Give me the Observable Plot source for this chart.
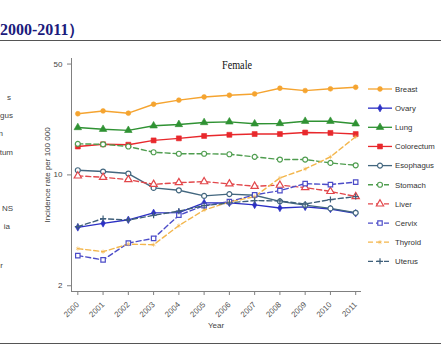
<!DOCTYPE html>
<html><head><meta charset="utf-8">
<script src="https://cdn.jsdelivr.net/npm/d3@7"></script>
<script src="https://cdn.jsdelivr.net/npm/@observablehq/plot@0.6"></script>
<style>
html,body{margin:0;padding:0;background:#fff;}
#wrap{position:relative;width:441px;height:358px;overflow:hidden;background:#fff;}
#wrap svg{position:absolute;left:0;top:0;}
</style></head><body><div id="wrap"></div>
<script>
// ---- data ----
const years = [2000,2001,2002,2003,2004,2005,2006,2007,2008,2009,2010,2011];
const breast     = [24.3,25.3,24.5,27.9,29.6,31.0,31.8,32.4,35.2,34.0,34.9,35.7];
const ovary      = [4.67,4.95,5.21,5.76,5.78,6.66,6.66,6.47,6.19,6.29,6.10,5.73];
const lung       = [19.9,19.4,19.1,20.4,20.8,21.4,21.6,21.0,21.1,21.8,21.8,21.0];
const colorectum = [15.1,15.6,15.5,16.5,17.0,17.6,17.9,18.1,18.1,18.5,18.4,18.1];
const esophagus  = [10.7,10.5,10.2,8.28,8.0,7.37,7.57,7.44,6.81,6.45,6.15,5.77];
const stomach    = [15.7,15.6,15.1,13.9,13.6,13.6,13.5,13.0,12.5,12.5,11.9,11.5];
const liver      = [9.86,9.66,9.34,8.72,8.94,9.07,8.78,8.48,8.62,8.32,7.87,7.30];
const cervix     = [3.10,2.91,3.72,3.98,5.57,6.40,6.79,7.48,7.96,8.81,8.69,9.01];
const thyroid    = [3.43,3.28,3.66,3.63,4.79,6.01,6.74,7.30,9.57,10.9,13.0,17.4];
const uterus     = [4.72,5.30,5.19,5.56,5.91,6.40,6.66,6.89,6.85,6.55,6.99,7.30];

const seriesNames = ["Breast","Ovary","Lung","Colorectum","Esophagus","Stomach","Liver","Cervix","Thyroid","Uterus"];
const seriesValues = [breast,ovary,lung,colorectum,esophagus,stomach,liver,cervix,thyroid,uterus];
const yTicks = [2,10,50];
const leftFragments = ["s","gus","n","tum","NS","ia","r"];
const titleText = "2000-2011）";
const panelTitle = "Female";
const yLabel = "Incidence rate per 100 000";
const xLabel = "Year";

// ---- styles ----
const colors  = ["#f5a430","#2b2fc4","#2f9233","#e8282c","#43677f","#4f9d4f","#e2474b","#4c4cc8","#f3b64c","#3f5f7a"];
const dashes  = [null,null,null,null,null,"5,3","5,3","5,3","5,3","5,3"];
const symbols = ["circle","diamond","triangle","square","circle","circle","triangle","square","asterisk","plus"];
const filled  = [true,true,true,true,false,false,false,false,true,false];
const sizes   = [2.4,2.3,2.8,2.8,2.5,2.5,2.7,2.5,2.0,2.1];

const rows = [];
seriesNames.forEach((name,i)=>{
  years.forEach((yr,j)=>rows.push({series:name, idx:i, year:yr, value:seriesValues[i][j]}));
});

const marks = [];
seriesNames.forEach((name,i)=>{
  const data = rows.filter(r=>r.idx===i);
  marks.push(Plot.line(data,{x:"year",y:"value",stroke:colors[i],strokeWidth:1.4,strokeDasharray:dashes[i]||undefined}));
});
seriesNames.forEach((name,i)=>{
  const data = rows.filter(r=>r.idx===i);
  marks.push(Plot.dot(data,{x:"year",y:"value",symbol:()=>symbols[i],r:sizes[i],
    fill: filled[i] ? colors[i] : "#fff", stroke:colors[i], strokeWidth: filled[i]?0.6:1.2}));
});

const chart = Plot.plot({
  width:441, height:358,
  marginLeft:71, marginRight:80, marginTop:58, marginBottom:67,
  style:{fontFamily:"'Liberation Sans', Arial, sans-serif", fontSize:"8px", color:"#444", background:"transparent"},
  x:{domain:[1999.75,2011.23]},
  y:{type:"log", domain:[1.84,54.2]},
  marks:[
    Plot.ruleX([1999.75],{stroke:"#808080",strokeWidth:1}),
    Plot.ruleY([1.84],{stroke:"#808080",strokeWidth:1}),
    Plot.axisY({ticks:yTicks, tickFormat:d=>String(d), tickSize:4, label:null, stroke:"#808080", fill:"#444", fontSize:8}),
    Plot.axisX({ticks:years, tickFormat:d=>String(d), tickSize:4, tickRotate:-45, label:null, stroke:"#808080", fill:"#555", fontSize:8}),
    ...marks
  ]
});
document.getElementById("wrap").appendChild(chart);

// ---- overlay: page title, rules, panel title, axis titles, legend ----
const ov = d3.select("#wrap").append("svg").attr("width",441).attr("height",358)
  .style("font-family","'Liberation Sans', Arial, sans-serif");

ov.append("text").attr("x",0).attr("y",35).text(titleText)
  .attr("font-family","'Liberation Serif','Times New Roman',serif").attr("font-weight","bold")
  .attr("font-size",16).attr("fill","#1b1b7c");
ov.append("line").attr("x1",0).attr("x2",441).attr("y1",40.5).attr("y2",40.5).attr("stroke","#555").attr("stroke-width",1.2);
ov.append("line").attr("x1",0).attr("x2",441).attr("y1",343.5).attr("y2",343.5).attr("stroke","#555").attr("stroke-width",1.2);

ov.append("text").attr("x",222).attr("y",69).text(panelTitle)
  .attr("font-family","'Liberation Serif','Times New Roman',serif").attr("font-size",13)
  .attr("textLength",30).attr("lengthAdjust","spacingAndGlyphs").attr("fill","#111");

ov.append("text").attr("transform","translate(50,175) rotate(-90)").attr("text-anchor","middle")
  .attr("font-size",8).attr("fill","#444").text(yLabel);
ov.append("text").attr("x",216).attr("y",328).attr("text-anchor","middle")
  .attr("font-size",8).attr("fill","#444").text(xLabel);

// cut-off legend of the neighbouring panel
const fragY = [100,118,136,155,211,229,268];
const fragRight = [11,13,3,13,13,10,3];
leftFragments.forEach((t,i)=>{
  ov.append("text").attr("x",fragRight[i]).attr("y",fragY[i]).attr("text-anchor","end")
    .attr("font-size",8).attr("fill","#444").text(t);
});

// legend
const symMap = {circle:d3.symbolCircle, diamond:d3.symbolDiamond, triangle:d3.symbolTriangle,
  square:d3.symbolSquare, asterisk:d3.symbolAsterisk, plus:d3.symbolPlus};
seriesNames.forEach((name,i)=>{
  const y = 89 + i*19.15;
  const g = ov.append("g");
  g.append("line").attr("x1",368).attr("x2",392).attr("y1",y).attr("y2",y)
    .attr("stroke",colors[i]).attr("stroke-width",1.3).attr("stroke-dasharray",dashes[i]||null);
  const area = Math.PI*sizes[i]*sizes[i];
  g.append("path").attr("d",d3.symbol(symMap[symbols[i]], area)())
    .attr("transform",`translate(380,${y})`)
    .attr("fill",filled[i]?colors[i]:"#fff").attr("stroke",colors[i]).attr("stroke-width",filled[i]?0.6:1.2);
  g.append("text").attr("x",395).attr("y",y+2.8).attr("font-size",7.8).attr("fill","#333").text(name);
});
</script>
</body></html>
